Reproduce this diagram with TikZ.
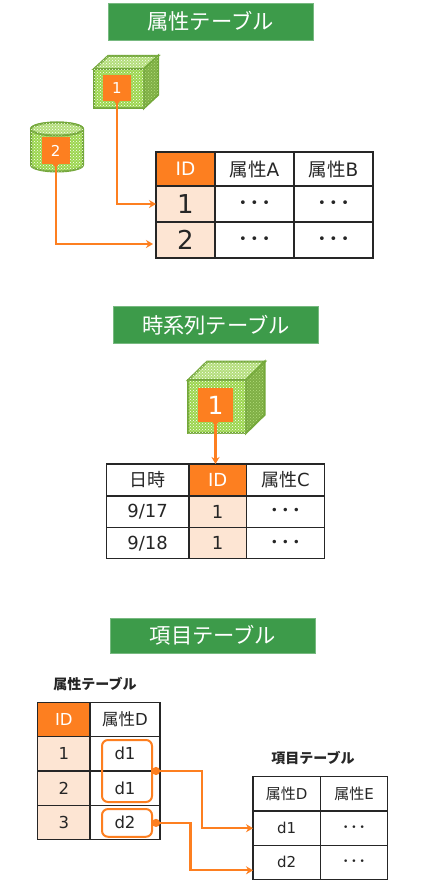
\documentclass[tikz,border=0pt]{standalone}
\usepackage{fontspec}
\setmainfont{DejaVu Sans}
\newfontfamily\cjk{Noto Sans CJK JP}
\usetikzlibrary{arrows.meta,patterns}
\definecolor{ttlgreen}{HTML}{3D9B4A}
\definecolor{boxorange}{HTML}{FD7F20}
\definecolor{idpeach}{HTML}{FDE5D3}
\definecolor{cubeline}{HTML}{74A83A}
\definecolor{cubefill}{HTML}{9CD64F}
\definecolor{cubetop}{HTML}{B4DE7C}
\definecolor{cubedark}{HTML}{7FAF45}
\newcommand{\jp}[1]{{\cjk #1}}
\newcommand{\dotrow}[2]{{\fontsize{#1}{#1}\selectfont •\hspace{#2}•\hspace{#2}•}}
\newcommand{\datacube}[7]{% x0, y0, x1, y1, depth x, depth y, name
  \coordinate (#7a) at (#1,#2);
  \coordinate (#7b) at (#3,#2);
  \coordinate (#7c) at (#3,#4);
  \coordinate (#7d) at (#1,#4);
  \draw[cube, fill=cubetop, postaction={pattern=crosshatch dots, pattern color=white}]
    (#7a) -- ++(#5,-#6) -- ++(#3-#1,0) -- (#7b) -- cycle;
  \draw[cube, fill=cubedark, postaction={pattern=crosshatch dots, pattern color=cubetop}]
    (#7b) -- ++(#5,-#6) -- ++(0,#4-#2) -- (#7c) -- cycle;
  \draw[cube, postaction={pattern=crosshatch dots, pattern color=white}]
    (#7a) -- (#7b) -- (#7c) -- (#7d) -- cycle;
}
\begin{document}
\begin{tikzpicture}[
  x=1pt, y=-1pt,
  ttl/.style={fill=ttlgreen, draw=ttlgreen!70!white, line width=0.6pt, text=white, minimum width=205pt,
              minimum height=37pt, inner sep=0pt, font=\cjk\fontsize{21.3}{21.3}\selectfont},
  sub/.style={font=\cjk\fontsize{14}{14}\selectfont\bfseries, inner sep=0pt, text=black!85},
  tcell/.style 2 args={draw=black!85, line width=1.2pt, minimum width=#1, minimum height=#2,
                       inner sep=0pt, outer sep=0pt, align=center, text=black!85},
  hdr/.style={fill=boxorange, text=white},
  idc/.style={fill=idpeach},
  cube/.style={draw=cubeline, line width=2pt, fill=cubefill, line join=miter},
  tag/.style={fill=boxorange, text=white, inner sep=0pt, outer sep=0pt},
  link/.style={draw=boxorange, line width=2.1pt},
  arr/.style={link, {Triangle[reversed,length=4pt,width=6pt]}-{Stealth[length=7pt,width=8pt]}},
  darr/.style={link, {Circle[length=8pt]}-{Stealth[length=7pt,width=8pt]}},
  ring/.style={draw=boxorange, line width=2pt, rounded corners=6pt, inner sep=0pt, outer sep=0pt}
]
  \useasboundingbox (0,0) rectangle (420,890);
  \fill[white] (0,0) rectangle (420,890);

  % Attribute table
  \node[ttl] (T1) at (210.5,21.5) {属性テーブル};
  \datacube{94}{69}{144}{108}{14}{13}{cubeA}
  \node[tag, minimum width=28pt, minimum height=25.5pt, font=\fontsize{15}{15}\selectfont] (N1) at (117,88) {1};
  \draw[cube, postaction={pattern=crosshatch dots, pattern color=white}]
    (31,129) -- (31,165) arc[start angle=180, end angle=0, x radius=26, y radius=6.5]
    -- (83,129) arc[start angle=0, end angle=-180, x radius=26, y radius=6.5] -- cycle;
  \draw[cube, fill=cubetop, postaction={pattern=crosshatch dots, pattern color=white}] (57,129) ellipse[x radius=26, y radius=6.5];
  \node[tag, minimum width=28pt, minimum height=26.5pt, font=\fontsize{15}{15}\selectfont] (N2) at (55.7,150.7) {2};

  \begin{scope}[nodes={font=\fontsize{18.5}{18.5}\selectfont}]
    \node[tcell={59pt}{34pt}, hdr] (A0) at (185.5,169) {ID};
    \node[tcell={79pt}{34pt}] (A1) at (254.5,169) {\jp{属性}A};
    \node[tcell={79pt}{34pt}] (A2) at (333.5,169) {\jp{属性}B};
    \node[tcell={59pt}{36pt}, idc, font=\fontsize{26}{26}\selectfont] (A3) at (185.5,204) {1};
    \node[tcell={79pt}{36pt}] (A4) at (254.5,204) {\dotrow{13}{4pt}};
    \node[tcell={79pt}{36pt}] (A5) at (333.5,204) {\dotrow{13}{4pt}};
    \node[tcell={59pt}{36pt}, idc, font=\fontsize{26}{26}\selectfont] (A6) at (185.5,240) {2};
    \node[tcell={79pt}{36pt}] (A7) at (254.5,240) {\dotrow{13}{4pt}};
    \node[tcell={79pt}{36pt}] (A8) at (333.5,240) {\dotrow{13}{4pt}};
  \end{scope}
  \draw[arr] (N1.south) |- (A3.west);
  \draw[arr] (N2.south) |- ([xshift=-3pt,yshift=-4pt]A6.west);

  % Time series table
  \node[ttl] (T2) at (216,325) {時系列テーブル};
  \datacube{188.3}{380}{246}{433}{18.7}{18.3}{cubeB}
  \node[tag, minimum width=34.4pt, minimum height=34pt, font=\fontsize{25}{25}\selectfont] (N3) at (215.5,405) {1};

  \begin{scope}[nodes={font=\fontsize{18}{18}\selectfont}]
    \node[tcell={82.7pt}{32pt}] (B0) at (147.6,480) {\jp{日時}};
    \node[tcell={57.3pt}{32pt}, hdr] (B1) at (217.6,480) {ID};
    \node[tcell={78.4pt}{32pt}] (B2) at (285.5,480) {\jp{属性}C};
    \node[tcell={82.7pt}{31.7pt}] (B3) at (147.6,511.8) {9/17};
    \node[tcell={57.3pt}{31.7pt}, idc] (B4) at (217.6,511.8) {1};
    \node[tcell={78.4pt}{31.7pt}] (B5) at (285.5,511.8) {\dotrow{12}{3.9pt}};
    \node[tcell={82.7pt}{31pt}] (B6) at (147.6,543.2) {9/18};
    \node[tcell={57.3pt}{31pt}, idc] (B7) at (217.6,543.2) {1};
    \node[tcell={78.4pt}{31pt}] (B8) at (285.5,543.2) {\dotrow{12}{3.9pt}};
  \end{scope}
  \draw[arr] (N3.south) -- (N3.south |- B1.north);

  % Item table
  \node[ttl, minimum height=35.5pt] (T3) at (213,635.7) {項目テーブル};
  \node[sub] (S1) at (95,684) {属性テーブル};
  \node[sub] (S2) at (313,758) {項目テーブル};

  \begin{scope}[nodes={font=\fontsize{16.5}{16.5}\selectfont}]
    \node[tcell={52.3pt}{34.4pt}, hdr] (C0) at (63.8,719.5) {ID};
    \node[tcell={70pt}{34.4pt}] (C1) at (125,719.5) {\jp{属性}D};
    \node[tcell={52.3pt}{34.3pt}, idc] (C2) at (63.8,753.8) {1};
    \node[tcell={70pt}{34.3pt}] (C3) at (125,753.8) {d1};
    \node[tcell={52.3pt}{34.3pt}, idc] (C4) at (63.8,788.1) {2};
    \node[tcell={70pt}{34.3pt}] (C5) at (125,788.1) {d1};
    \node[tcell={52.3pt}{34pt}, idc] (C6) at (63.8,822.3) {3};
    \node[tcell={70pt}{34pt}] (C7) at (125,822.3) {d2};
  \end{scope}
  \begin{scope}[nodes={font=\fontsize{15}{15}\selectfont}]
    \node[tcell={67.3pt}{34.3pt}] (D0) at (286.7,793.8) {\jp{属性}D};
    \node[tcell={67.4pt}{34.3pt}] (D1) at (354,793.8) {\jp{属性}E};
    \node[tcell={67.3pt}{34.3pt}] (D2) at (286.7,828.2) {d1};
    \node[tcell={67.4pt}{34.3pt}] (D3) at (354,828.2) {\dotrow{9}{3pt}};
    \node[tcell={67.3pt}{34pt}] (D4) at (286.7,862.3) {d2};
    \node[tcell={67.4pt}{34pt}] (D5) at (354,862.3) {\dotrow{9}{3pt}};
  \end{scope}

  \node[ring, minimum width=50pt, minimum height=62pt] (R1) at (127,771) {};
  \node[ring, minimum width=50pt, minimum height=27.7pt] (R2) at (127,822.9) {};
  \draw[darr] (R1.east) -- ++(50,0) |- (D2.west);
  \draw[darr] (R2.east) -- ++(38.5,0) |- ([yshift=-8pt]D4.west);
\end{tikzpicture}
\end{document}
